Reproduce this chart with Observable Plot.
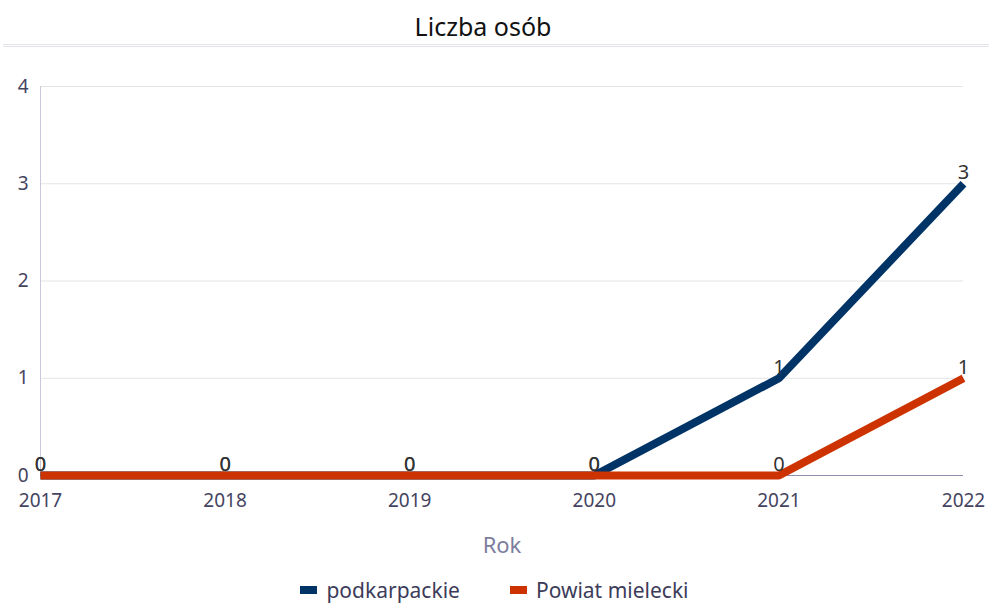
<!DOCTYPE html>
<html><head><meta charset="utf-8">
<script src="https://cdn.jsdelivr.net/npm/d3@7"></script>
<script src="https://cdn.jsdelivr.net/npm/@observablehq/plot@0.6"></script>
<style>
body{margin:0;background:#fff;font-family:"Noto Sans",sans-serif;width:989px;height:607px;position:relative;overflow:hidden}
#title{position:absolute;left:0;top:9px;width:966px;text-align:center;font-size:25px;color:#111}
#sep{position:absolute;left:3px;right:0;top:44px;height:1px;border-top:1px solid #e3e3ea;border-bottom:1px solid #e3e3ea}
#chart{position:absolute;left:0;top:50px}
#legend{position:absolute;top:576px;left:0;width:989px;display:flex;justify-content:center;gap:50px;font-size:21px;color:#3c3c5a}
.item{display:flex;align-items:center;gap:9px}
.sw{width:17px;height:8px;display:inline-block}
</style></head><body>
<div id="title">Liczba osób</div>
<div id="sep"></div>
<div id="chart"></div>
<div id="legend"></div>
<script>
const years = [2017, 2018, 2019, 2020, 2021, 2022];
const seriesNames = ["podkarpackie", "Powiat mielecki"];
const podkarpackie = [0, 0, 0, 0, 1, 3];
const powiatMielecki = [0, 0, 0, 0, 0, 1];
const yTicks = [0, 1, 2, 3, 4];
const colors = ["#003366", "#cc3300"];

const data = [];
[podkarpackie, powiatMielecki].forEach((vals, i) =>
  vals.forEach((v, j) => data.push({series: seriesNames[i], year: years[j], value: v})));

const chart = Plot.plot({
  width: 989, height: 510,
  marginLeft: 40, marginRight: 26, marginTop: 36, marginBottom: 85,
  style: {fontFamily: "Noto Sans, sans-serif", fontSize: "19px", color: "#44445f", background: "white"},
  x: {type: "linear", domain: [2017, 2022], ticks: years, tickFormat: d => String(d)},
  y: {domain: [0, 4], ticks: yTicks, tickFormat: d => String(d)},
  color: {domain: seriesNames, range: colors},
  marks: [
    Plot.gridY(yTicks, {stroke: "#e4e4e4", strokeOpacity: 1}),
    Plot.axisY({ticks: yTicks, tickSize: 0, tickPadding: 12, label: null, fontSize: 19, tickFormat: d => String(d)}),
    Plot.axisX({ticks: years, tickSize: 0, tickPadding: 18, tickFormat: d => String(d), fontSize: 19, label: "Rok", labelAnchor: "center", labelArrow: "none", labelOffset: 77, fill: "#44445f"}),
    Plot.ruleX([2017], {stroke: "#c8c8d8", strokeWidth: 1}),
    Plot.ruleY([0], {stroke: "#8c8cab", strokeWidth: 1}),
    Plot.line(data, {x: "year", y: "value", z: "series", stroke: "series", strokeWidth: 8, strokeLinejoin: "miter", strokeLinecap: "butt"}),
    Plot.text(data, {x: "year", y: "value", text: d => String(d.value), dy: -11, fill: "#333", fontSize: 20})
  ]
});
document.getElementById("chart").appendChild(chart);
chart.querySelectorAll("[aria-label='x-axis label'] text").forEach(t => { t.style.fill = "#7d7d9e"; t.style.fontSize = "22px"; });

const lg = document.getElementById("legend");
seriesNames.forEach((n, i) => {
  const d = document.createElement("div"); d.className = "item";
  d.innerHTML = `<span class="sw" style="background:${colors[i]}"></span><span>${n}</span>`;
  lg.appendChild(d);
});
</script>
</body></html>
